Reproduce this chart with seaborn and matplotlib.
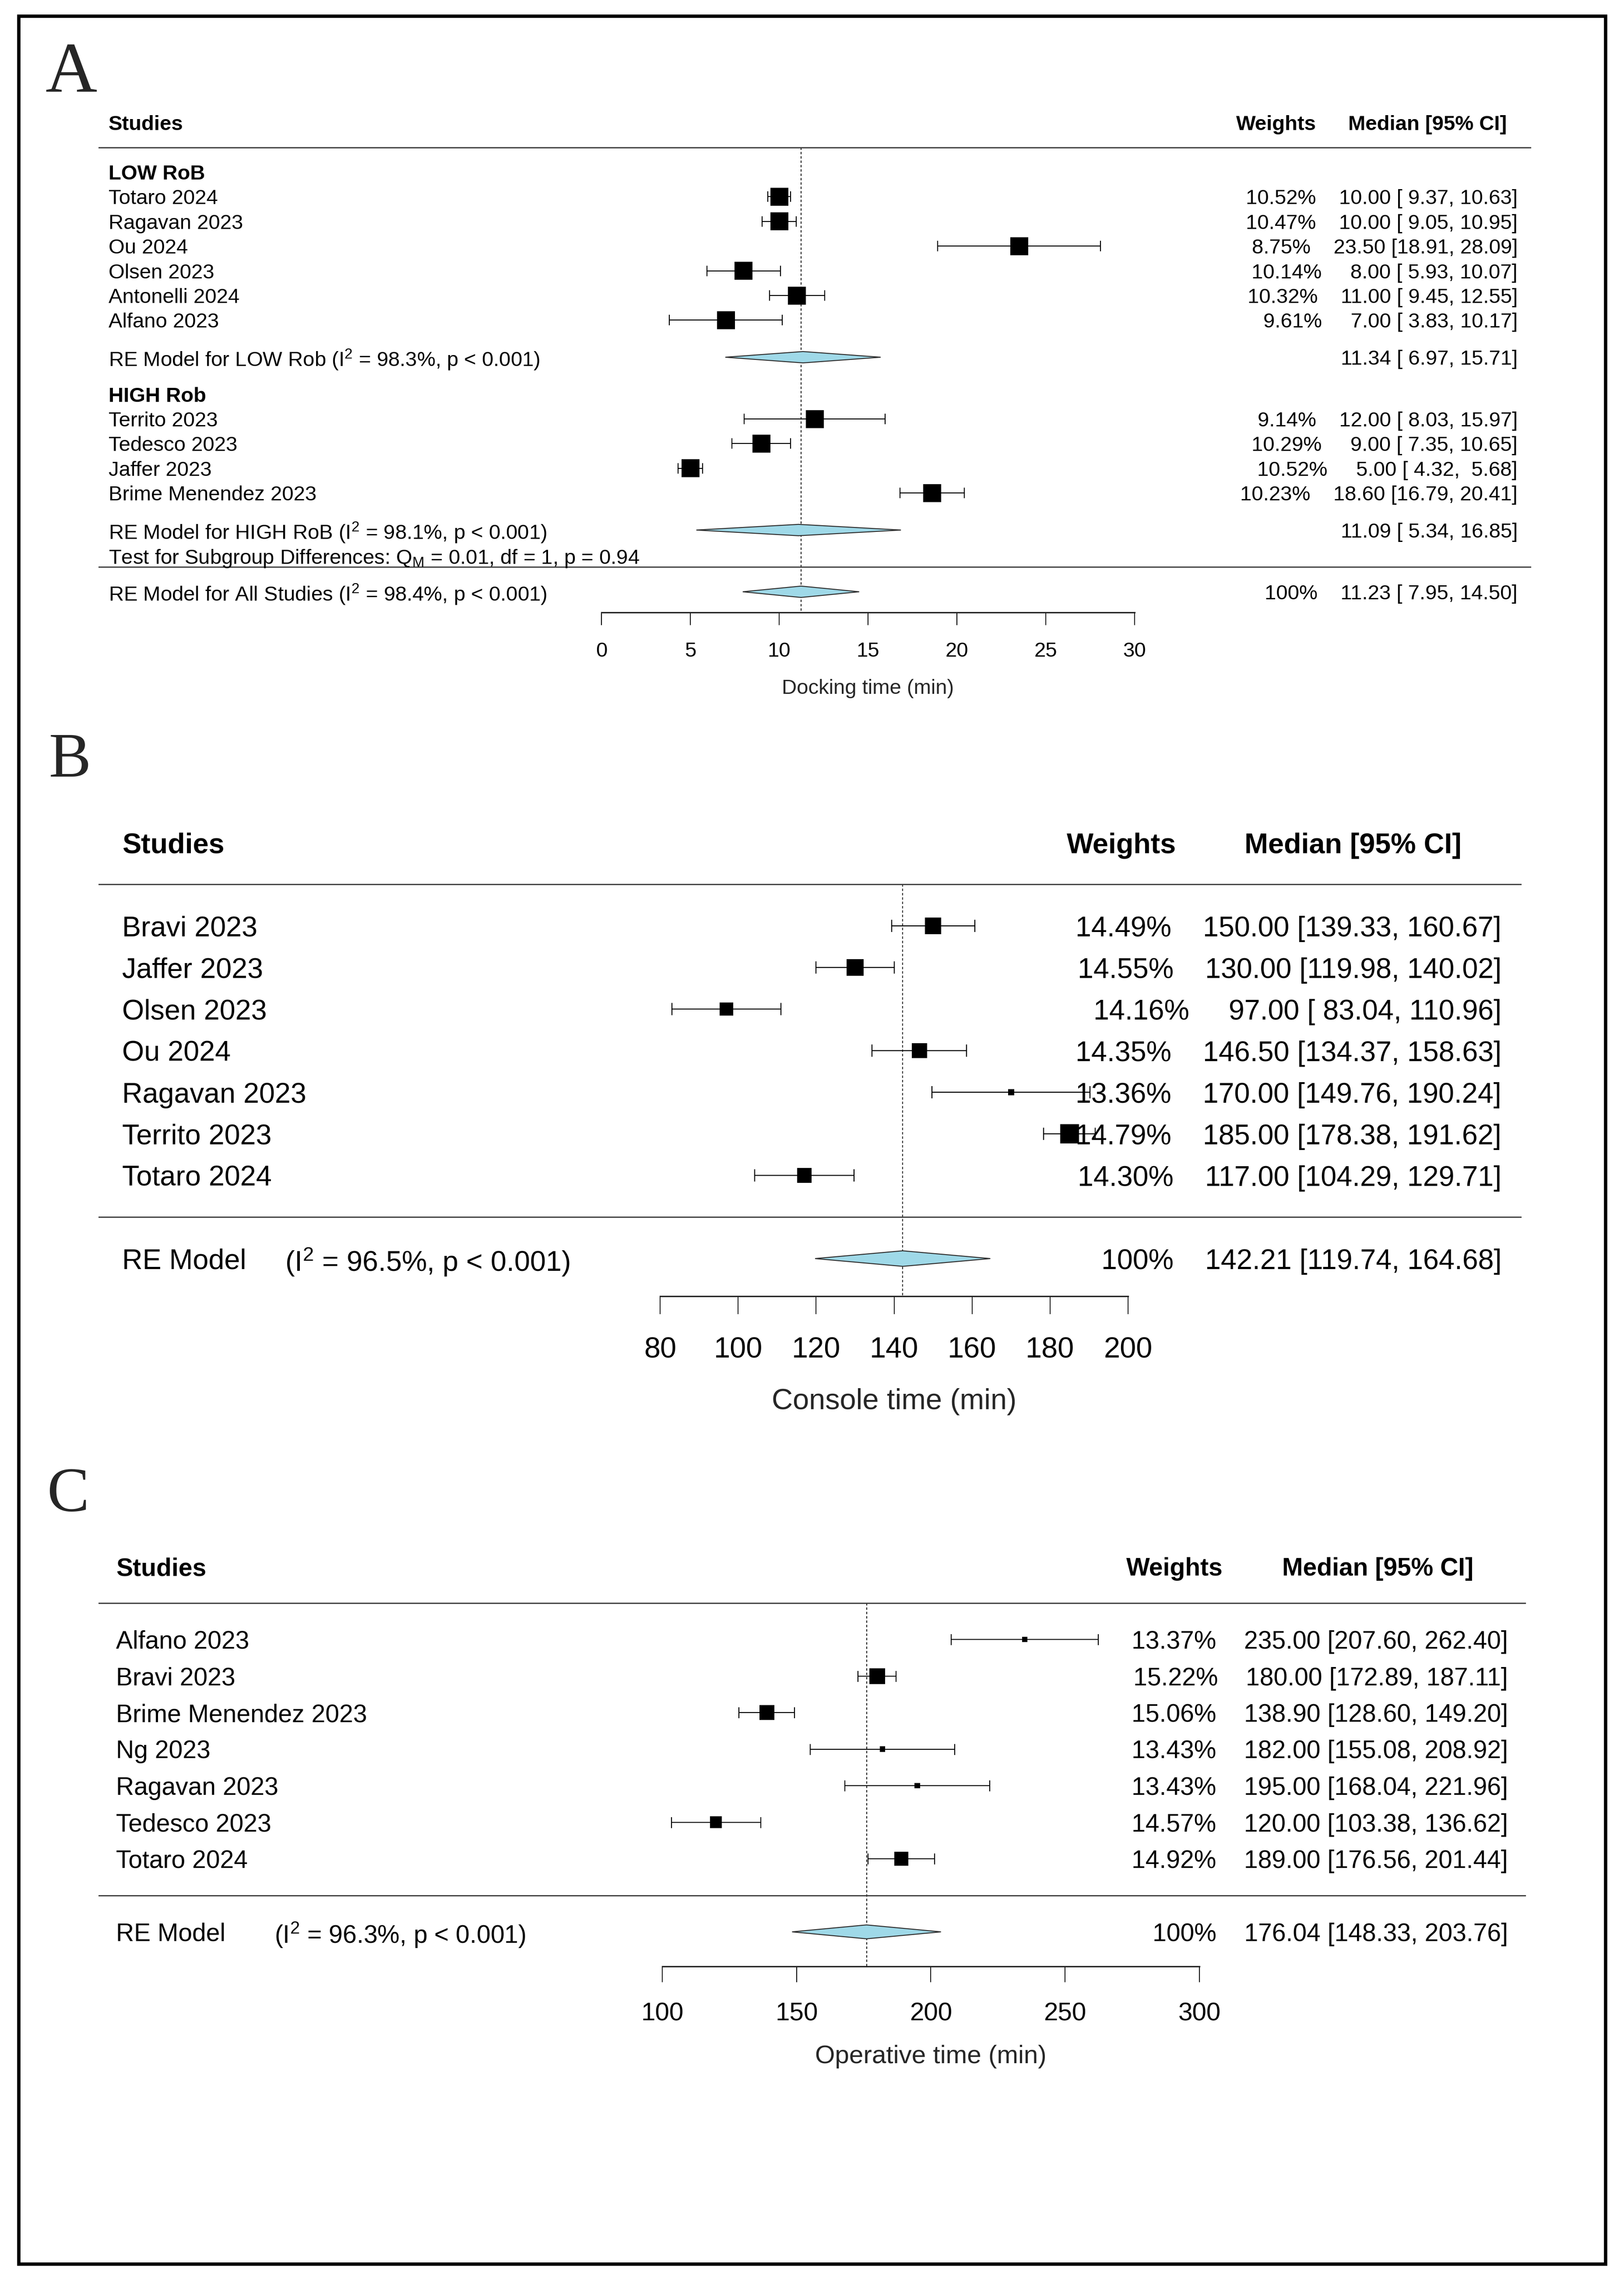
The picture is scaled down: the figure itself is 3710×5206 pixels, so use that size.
import numpy as np
import pandas as pd
import matplotlib
matplotlib.use("Agg")
import matplotlib.pyplot as plt
from matplotlib.patches import Rectangle
import seaborn as sns

# ---------------- data ----------------
# Panel A: docking time, split by risk of bias
a_low_studies = ["Totaro 2024", "Ragavan 2023", "Ou 2024", "Olsen 2023", "Antonelli 2024", "Alfano 2023"]
a_low_est = [10.00, 10.00, 23.50, 8.00, 11.00, 7.00]
a_low_lo = [9.37, 9.05, 18.91, 5.93, 9.45, 3.83]
a_low_hi = [10.63, 10.95, 28.09, 10.07, 12.55, 10.17]
a_low_w = [10.52, 10.47, 8.75, 10.14, 10.32, 9.61]

a_high_studies = ["Territo 2023", "Tedesco 2023", "Jaffer 2023", "Brime Menendez 2023"]
a_high_est = [12.00, 9.00, 5.00, 18.60]
a_high_lo = [8.03, 7.35, 4.32, 16.79]
a_high_hi = [15.97, 10.65, 5.68, 20.41]
a_high_w = [9.14, 10.29, 10.52, 10.23]

a_re_low = [11.34, 6.97, 15.71]
a_re_high = [11.09, 5.34, 16.85]
a_re_all = [11.23, 7.95, 14.50]
a_ticks = [0, 5, 10, 15, 20, 25, 30]

# Panel B: console time
b_studies = ["Bravi 2023", "Jaffer 2023", "Olsen 2023", "Ou 2024", "Ragavan 2023", "Territo 2023", "Totaro 2024"]
b_est = [150.00, 130.00, 97.00, 146.50, 170.00, 185.00, 117.00]
b_lo = [139.33, 119.98, 83.04, 134.37, 149.76, 178.38, 104.29]
b_hi = [160.67, 140.02, 110.96, 158.63, 190.24, 191.62, 129.71]
b_w = [14.49, 14.55, 14.16, 14.35, 13.36, 14.79, 14.30]
b_re = [142.21, 119.74, 164.68]
b_ticks = [80, 100, 120, 140, 160, 180, 200]

# Panel C: operative time
c_studies = ["Alfano 2023", "Bravi 2023", "Brime Menendez 2023", "Ng 2023", "Ragavan 2023", "Tedesco 2023", "Totaro 2024"]
c_est = [235.00, 180.00, 138.90, 182.00, 195.00, 120.00, 189.00]
c_lo = [207.60, 172.89, 128.60, 155.08, 168.04, 103.38, 176.56]
c_hi = [262.40, 187.11, 149.20, 208.92, 221.96, 136.62, 201.44]
c_w = [13.37, 15.22, 15.06, 13.43, 13.43, 14.57, 14.92]
c_re = [176.04, 148.33, 203.76]
c_ticks = [100, 150, 200, 250, 300]

# ---------------- style ----------------
sns.set_style("white")
plt.rcParams["font.family"] = ["Liberation Sans", "DejaVu Sans"]
plt.rcParams["mathtext.fontset"] = "custom"
plt.rcParams["mathtext.rm"] = "Liberation Sans"
plt.rcParams["mathtext.it"] = "Liberation Sans:italic"
plt.rcParams["mathtext.bf"] = "Liberation Sans:bold"

W, H, DPI = 3710, 5206, 100
PT = DPI / 72.0
DIAMOND = "#9FD9E8"
LINE = "#3a3a3a"

fig = plt.figure(figsize=(W / DPI, H / DPI), dpi=DPI)


def make_axes(top, bottom, left, right, row0, rh, v0, p0, v1, p1):
    ax = fig.add_axes([left / W, 1 - bottom / H, (right - left) / W, (bottom - top) / H])
    k = (p1 - p0) / (v1 - v0)
    xlim = (v0 + (left - p0) / k, v0 + (right - p0) / k)
    ylim = ((bottom - row0) / rh, (top - row0) / rh)
    ax.patch.set_visible(False)
    return ax, (lambda px: v0 + (px - p0) / k), xlim, ylim


def annot(w, e, lo, hi, width):
    ci = f"{e:{width}.2f} [{lo:{width}.2f}, {hi:{width}.2f}]"
    return ci if w is None else f"{w}    {ci}"


def studies(ax, rows, est, lo, hi, sides_px, cap_pt, lw):
    est, lo, hi = map(np.asarray, (est, lo, hi))
    ax.errorbar(est, rows, xerr=[est - lo, hi - est], fmt="none", ecolor="black",
                elinewidth=lw, capsize=cap_pt, capthick=lw, zorder=3)
    df = pd.DataFrame({"est": est, "row": rows})
    sns.scatterplot(data=df, x="est", y="row", marker="s", s=(np.asarray(sides_px) / PT) ** 2,
                    color="black", linewidth=0, ax=ax, legend=False, zorder=4)
    ax.set_xlabel("")
    ax.set_ylabel("")


def diamond(ax, row, vals, half):
    e, lo, hi = vals
    ax.fill([lo, e, hi, e], [row, row - half, row, row + half], facecolor=DIAMOND,
            edgecolor="#2f2f2f", linewidth=1.6, zorder=3)


def psize(w, base_px):
    w = np.asarray(w)
    return base_px * (0.5 + (w - w.min()) / (w.max() - w.min()))


def bottom_axis(ax, ticks, axis_row, tick_len, pad, size):
    for side in ["left", "top", "right"]:
        ax.spines[side].set_visible(False)
    sp = ax.spines["bottom"]
    sp.set_position(("data", axis_row))
    sp.set_bounds(ticks[0], ticks[-1])
    sp.set_linewidth(2.3)
    sp.set_color("#222222")
    ax.set_xticks(ticks)
    ax.set_xticklabels([str(t) for t in ticks])
    ax.tick_params(axis="x", bottom=True, labelbottom=True, direction="out", length=tick_len,
                   width=1.4, pad=pad, labelsize=size, colors="black")
    ax.set_yticks([])


def txt(ax, x, y, s, size, ha="left", bold=False):
    ax.text(x, y, s, ha=ha, va="center_baseline", fontsize=size,
            fontweight="bold" if bold else "normal", color="black")


# ---------------- panel A ----------------
ax, px, xlim, ylim = make_axes(230, 1640, 225, 3498, 393, 56.4, 0, 1374, 30, 2592)
fs = 34
low_rows = [1, 2, 3, 4, 5, 6]
high_rows = [10, 11, 12, 13]
ax.axhline(-1, color=LINE, lw=2)
ax.axhline(16, color=LINE, lw=2)
ax.vlines(a_re_all[0], -1, 17.84, colors="black", linestyles=(0, (3, 2.5)), linewidth=1.3, zorder=1)
studies(ax, low_rows, a_low_est, a_low_lo, a_low_hi, [41] * 6, 8.6, 1.6)
studies(ax, high_rows, a_high_est, a_high_lo, a_high_hi, [41] * 4, 8.6, 1.6)
diamond(ax, 7.5, a_re_low, 0.23)
diamond(ax, 14.5, a_re_high, 0.23)
diamond(ax, 17, a_re_all, 0.23)
bottom_axis(ax, a_ticks, 17.84, 21, 27, 34)
ax.text(np.mean(a_ticks[::len(a_ticks) - 1]), 20.92, "Docking time (min)", ha="center", va="center", fontsize=fs)

txt(ax, px(248), -2, "Studies", fs, bold=True)
txt(ax, px(3007), -2, "Weights", fs, ha="right", bold=True)
txt(ax, px(3261), -2, "Median [95% CI]", fs, ha="center", bold=True)
txt(ax, px(248), 0, "LOW RoB", fs, bold=True)
for r, name, w, e, lo, hi in zip(low_rows, a_low_studies, a_low_w, a_low_est, a_low_lo, a_low_hi):
    txt(ax, px(248), r, name, fs)
    txt(ax, px(3467), r, annot(f"{w:.2f}%", e, lo, hi, 5), fs, ha="right")
txt(ax, px(248), 7.5, r"RE Model for LOW Rob (I$^\mathregular{2}$ = 98.3%, p < 0.001)", fs)
txt(ax, px(3467), 7.5, annot(None, *a_re_low, 5), fs, ha="right")
txt(ax, px(248), 9, "HIGH Rob", fs, bold=True)
for r, name, w, e, lo, hi in zip(high_rows, a_high_studies, a_high_w, a_high_est, a_high_lo, a_high_hi):
    txt(ax, px(248), r, name, fs)
    txt(ax, px(3467), r, annot(f"{w:.2f}%", e, lo, hi, 5), fs, ha="right")
txt(ax, px(248), 14.5, r"RE Model for HIGH RoB (I$^\mathregular{2}$ = 98.1%, p < 0.001)", fs)
txt(ax, px(3467), 14.5, annot(None, *a_re_high, 5), fs, ha="right")
txt(ax, px(248), 15.55, r"Test for Subgroup Differences: Q$_\mathregular{M}$ = 0.01, df = 1, p = 0.94", fs)
txt(ax, px(248), 17, r"RE Model for All Studies (I$^\mathregular{2}$ = 98.4%, p < 0.001)", fs)
txt(ax, px(3467), 17, annot("100%", *a_re_all, 5), fs, ha="right")
ax.set_xlim(*xlim)
ax.set_ylim(*ylim)

# ---------------- panel B ----------------
ax, px, xlim, ylim = make_axes(1860, 3270, 225, 3476, 2115, 95, 80, 1508, 200, 2577)
fs = 46.5
rows = list(range(len(b_studies)))
ax.axhline(-1, color=LINE, lw=2)
ax.axhline(7, color=LINE, lw=2)
ax.vlines(b_re[0], -1, 8.905, colors="black", linestyles=(0, (3, 2.5)), linewidth=1.3, zorder=1)
studies(ax, rows, b_est, b_lo, b_hi, psize(b_w, 28.8), 10.4, 1.7)
diamond(ax, 8, b_re, 0.187)
bottom_axis(ax, b_ticks, 8.905, 29.5, 37, 48)
ax.text(np.mean(b_ticks[::len(b_ticks) - 1]), 11.44, "Console time (min)", ha="center", va="center", fontsize=48)

txt(ax, px(279), -2, "Studies", fs, bold=True)
txt(ax, px(2687), -2, "Weights", fs, ha="right", bold=True)
txt(ax, px(3091), -2, "Median [95% CI]", fs, ha="center", bold=True)
for r, name, w, e, lo, hi in zip(rows, b_studies, b_w, b_est, b_lo, b_hi):
    txt(ax, px(279), r, name, fs)
    txt(ax, px(3430), r, annot(f"{w:.2f}%", e, lo, hi, 6), fs, ha="right")
txt(ax, px(279), 8, "RE Model", fs)
txt(ax, px(651), 8, r"(I$^\mathregular{2}$ = 96.5%, p < 0.001)", fs)
txt(ax, px(3430), 8, annot("100%", *b_re, 6), fs, ha="right")
ax.set_xlim(*xlim)
ax.set_ylim(*ylim)

# ---------------- panel C ----------------
ax, px, xlim, ylim = make_axes(3500, 4780, 225, 3486, 3745, 83.5, 100, 1513, 300, 2740)
fs = 41
rows = list(range(len(c_studies)))
ax.axhline(-1, color=LINE, lw=2)
ax.axhline(7, color=LINE, lw=2)
ax.vlines(c_re[0], -1, 8.946, colors="black", linestyles=(0, (3, 2.5)), linewidth=1.3, zorder=1)
studies(ax, rows, c_est, c_lo, c_hi, psize(c_w, 24), 9, 1.6)
diamond(ax, 8, c_re, 0.19)
bottom_axis(ax, c_ticks, 8.946, 26, 33, 42)
ax.text(np.mean(c_ticks[::len(c_ticks) - 1]), 11.41, "Operative time (min)", ha="center", va="center", fontsize=42)

txt(ax, px(265), -2, "Studies", fs, bold=True)
txt(ax, px(2794), -2, "Weights", fs, ha="right", bold=True)
txt(ax, px(3148), -2, "Median [95% CI]", fs, ha="center", bold=True)
for r, name, w, e, lo, hi in zip(rows, c_studies, c_w, c_est, c_lo, c_hi):
    txt(ax, px(265), r, name, fs)
    txt(ax, px(3445), r, annot(f"{w:.2f}%", e, lo, hi, 6), fs, ha="right")
txt(ax, px(265), 8, "RE Model", fs)
txt(ax, px(627), 8, r"(I$^\mathregular{2}$ = 96.3%, p < 0.001)", fs)
txt(ax, px(3445), 8, annot("100%", *c_re, 6), fs, ha="right")
ax.set_xlim(*xlim)
ax.set_ylim(*ylim)

# ---------------- panel letters and frame ----------------
for letter, x, y, size in [("A", 103, 210, 118), ("B", 112, 1774, 104), ("C", 107, 3452, 104)]:
    fig.text(x / W, 1 - y / H, letter, fontsize=size, family="Liberation Serif", va="baseline", ha="left")

fig.patches.append(Rectangle((43 / W, 1 - 5172 / H), (3668 - 43) / W, (5172 - 37) / H,
                             transform=fig.transFigure, fill=False, edgecolor="black", linewidth=5.5))

fig.savefig("out.png", dpi=DPI, facecolor="white")
